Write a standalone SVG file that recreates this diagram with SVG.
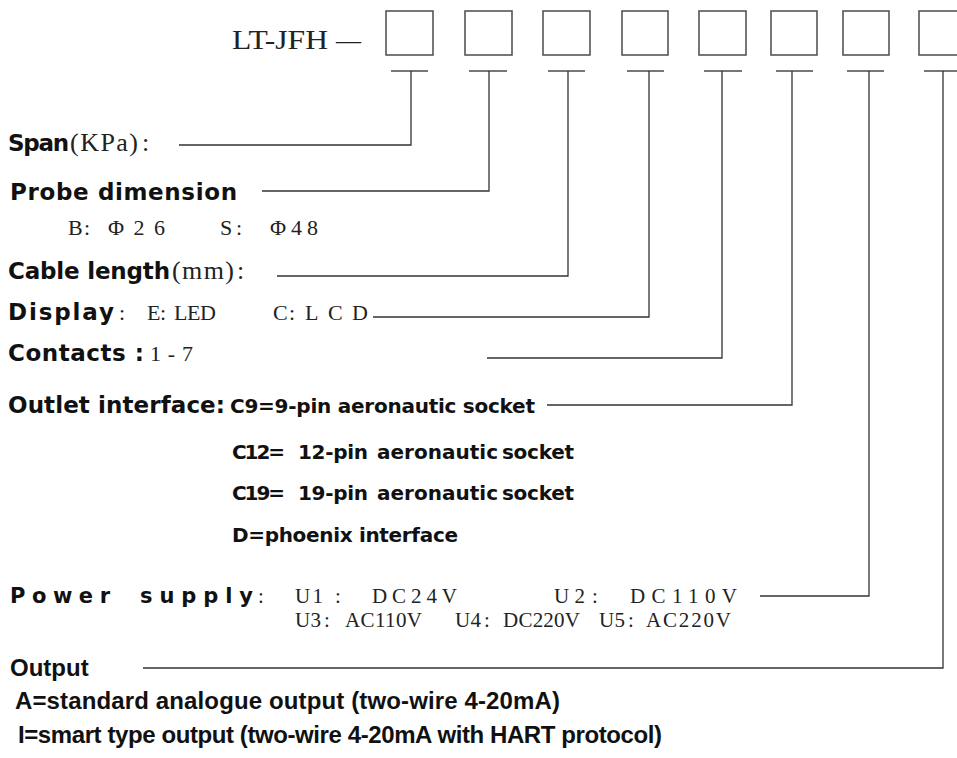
<svg xmlns="http://www.w3.org/2000/svg" width="957" height="758" viewBox="0 0 957 758">
<style>
text{fill:#111}
.b{font-family:"DejaVu Sans",sans-serif;font-weight:bold;font-size:23px}
.p{font-family:"DejaVu Sans",sans-serif;font-weight:bold;font-size:21px}
.c{font-family:"DejaVu Sans",sans-serif;font-weight:bold;font-size:20px}
.o{font-family:"Liberation Sans",Arial,sans-serif;font-weight:bold;font-size:24px}
.s{font-family:"Liberation Serif",serif;font-size:22px;fill:#222}
.u{font-family:"Liberation Serif",serif;font-size:21px;fill:#222}
.s2{font-family:"Liberation Serif",serif;font-size:26px;fill:#222}
.t{font-family:"Liberation Serif",serif;font-size:27px;fill:#222}
.box{fill:none;stroke:#555;stroke-width:1.6}
.ln{fill:none;stroke:#333;stroke-width:1.3}
.tb{fill:none;stroke:#777;stroke-width:2}
</style>
<rect width="957" height="758" fill="#fff"/>
<g id="title">
<text class="t" x="232" y="49" textLength="96" lengthAdjust="spacingAndGlyphs">LT-JFH</text>
<text class="t" x="336" y="49" textLength="25" lengthAdjust="spacingAndGlyphs">—</text>
</g>
<g id="box1"><rect class="box" x="386" y="11" width="47" height="44"/></g>
<g id="box2"><rect class="box" x="465" y="11" width="47" height="44"/></g>
<g id="box3"><rect class="box" x="543" y="11" width="47" height="44"/></g>
<g id="box4"><rect class="box" x="622" y="11" width="46" height="44"/></g>
<g id="box5"><rect class="box" x="699" y="11" width="47" height="44"/></g>
<g id="box6"><rect class="box" x="771" y="11" width="46" height="44"/></g>
<g id="box7"><rect class="box" x="843" y="11" width="46" height="44"/></g>
<g id="box8"><rect class="box" x="919" y="11" width="47" height="44"/></g>
<g id="connectors">
<path class="tb" d="M391 71H428M469 71H507M548 71H585M627 71H664M704 71H742M776 71H813M847 71H884M924 71H961"/>
<path class="ln" d="M411 71V145H179"/>
<path class="ln" d="M489 71V191H262"/>
<path class="ln" d="M568 71V276H277"/>
<path class="ln" d="M649 71V317H373"/>
<path class="ln" d="M722 71V358H487"/>
<path class="ln" d="M792 71V405H547"/>
<path class="ln" d="M869 71V596H760"/>
<path class="ln" d="M943 71V668H143"/>
</g>
<g id="span">
<text class="b" x="8" y="151" textLength="61">Span</text>
<text class="s2" x="70" y="151" textLength="68">(KPa)</text>
<text class="s2" x="142" y="151">:</text>
</g>
<g id="probe">
<text class="b" x="10" y="200" textLength="227">Probe dimension</text>
<text class="s" x="68" y="235">B</text>
<text class="s" x="84" y="235">:</text>
<text class="s" x="108" y="235" textLength="57">Φ26</text>
<text class="s" x="220" y="235">S</text>
<text class="s" x="236" y="235">:</text>
<text class="s" x="270" y="235" textLength="48">Φ48</text>
</g>
<g id="cable">
<text class="b" x="8" y="279" textLength="162">Cable length</text>
<text class="s2" x="172" y="279" textLength="62">(mm)</text>
<text class="s2" x="237" y="279">:</text>
</g>
<g id="display">
<text class="b" x="8" y="320" textLength="106">Display</text>
<text class="s" x="119" y="320">:</text>
<text class="s" x="147" y="320">E</text>
<text class="s" x="160" y="320">:</text>
<text class="s" x="174" y="320" textLength="42">LED</text>
<text class="s" x="273" y="320">C</text>
<text class="s" x="289" y="320">:</text>
<text class="s" x="305" y="320" textLength="63">LCD</text>
</g>
<g id="contacts">
<text class="b" x="8" y="361" textLength="136">Contacts :</text>
<text class="s" x="150" y="361" textLength="43">1-7</text>
</g>
<g id="outlet">
<text class="b" x="8" y="413" textLength="217">Outlet interface:</text>
<text class="c" x="230" y="413" textLength="305">C9=9-pin aeronautic socket</text>
<text class="c" x="232" y="459" textLength="53">C12=</text>
<text class="c" x="298" y="459" textLength="70">12-pin</text>
<text class="c" x="377" y="459" textLength="121">aeronautic</text>
<text class="c" x="502" y="459" textLength="72">socket</text>
<text class="c" x="232" y="500" textLength="53">C19=</text>
<text class="c" x="298" y="500" textLength="70">19-pin</text>
<text class="c" x="377" y="500" textLength="121">aeronautic</text>
<text class="c" x="502" y="500" textLength="72">socket</text>
<text class="c" x="232" y="542" textLength="226">D=phoenix interface</text>
</g>
<g id="power">
<text class="p" x="10" y="603" textLength="100">Power</text>
<text class="p" x="140" y="603" textLength="113">supply</text>
<text class="u" x="258" y="603">:</text>
<text class="u" x="295" y="603" textLength="28">U1</text>
<text class="u" x="335" y="603">:</text>
<text class="u" x="372" y="603" textLength="85">DC24V</text>
<text class="u" x="554" y="603" textLength="31">U2</text>
<text class="u" x="592" y="603">:</text>
<text class="u" x="630" y="603" textLength="107">DC110V</text>
<text class="u" x="295" y="627" textLength="26">U3</text>
<text class="u" x="324" y="627">:</text>
<text class="u" x="345" y="627" textLength="77">AC110V</text>
<text class="u" x="455" y="627" textLength="26">U4</text>
<text class="u" x="484" y="627">:</text>
<text class="u" x="503" y="627" textLength="77">DC220V</text>
<text class="u" x="599" y="627" textLength="26">U5</text>
<text class="u" x="628" y="627">:</text>
<text class="u" x="646" y="627" textLength="85">AC220V</text>
</g>
<g id="output">
<text class="o" x="10" y="676">Output</text>
<text class="o" x="15" y="709" textLength="545">A=standard analogue output (two-wire 4-20mA)</text>
<text class="o" x="18" y="743" textLength="644">I=smart type output (two-wire 4-20mA with HART protocol)</text>
</g>
</svg>
